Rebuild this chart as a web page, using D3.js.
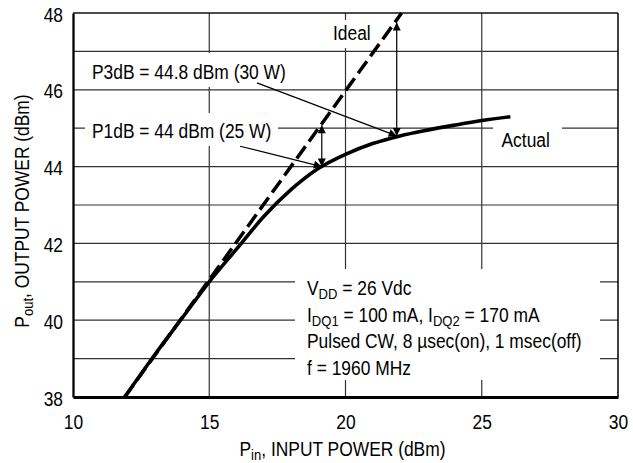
<!DOCTYPE html>
<html>
<head>
<meta charset="utf-8">
<script src="https://cdn.jsdelivr.net/npm/d3@7/dist/d3.min.js"></script>
<style>
  html, body { margin: 0; padding: 0; background: #fff; }
  svg { display: block; }
  text { font-family: "Liberation Sans", Arial, Helvetica, sans-serif; fill: #000; }
</style>
</head>
<body>
<svg id="chart" width="633" height="463"></svg>
<script>
// ---- data ----
const xTicks = [10, 15, 20, 25, 30];
const yTicks = [38, 40, 42, 44, 46, 48];
const xGrid = [15, 20, 25];
const yGrid = [39, 40, 41, 42, 43, 44, 45, 46, 47];

const actualPin  = [11.9, 13, 14, 15, 16, 17, 18, 19, 20, 21, 22, 23, 24, 25, 26.05];
const actualPout = [38.0, 39.1, 40.05, 41.0, 41.85, 42.7, 43.4, 43.95, 44.32, 44.6, 44.8, 44.95, 45.08, 45.2, 45.3];

const idealPin  = [11.9, 22.06];
const idealPout = [38.0, 48.0];

// compression points
const p1dB = { pin: 19.13, actual: 44.0, ideal: 45.08 };
const p3dB = { pin: 21.88, actual: 44.8, ideal: 47.75 };

// ---- layout ----
const W = 633, H = 463;
const m = { left: 73, top: 13, right: 15, bottom: 66 };
const FS = 20, SX = 0.87;

const svg = d3.select("#chart");
svg.append("rect").attr("width", W).attr("height", H).attr("fill", "#fff");

const x = d3.scaleLinear().domain([10, 30]).range([m.left, W - m.right]);
const y = d3.scaleLinear().domain([38, 48]).range([H - m.bottom, m.top]);

const defs = svg.append("defs");
defs.append("marker").attr("id", "ah")
  .attr("viewBox", "0 0 10 10").attr("refX", 10).attr("refY", 5)
  .attr("markerWidth", 12).attr("markerHeight", 8)
  .attr("markerUnits", "userSpaceOnUse").attr("orient", "auto-start-reverse")
  .append("path").attr("d", "M0,0 L10,5 L0,10 Z").attr("fill", "#000");

// ---- grid ----
const grid = svg.append("g");
grid.selectAll("line.v").data(xGrid).join("line")
  .attr("x1", d => x(d)).attr("x2", d => x(d))
  .attr("y1", y(48)).attr("y2", y(38))
  .attr("stroke", "#333").attr("stroke-width", 1.2);
grid.selectAll("line.h").data(yGrid).join("line")
  .attr("x1", x(10)).attr("x2", x(30))
  .attr("y1", d => y(d)).attr("y2", d => y(d))
  .attr("stroke", "#333").attr("stroke-width", 1.2);
// top and right frame
svg.append("line").attr("x1", x(10)).attr("x2", x(30)).attr("y1", y(48)).attr("y2", y(48))
  .attr("stroke", "#111").attr("stroke-width", 1.5);
svg.append("line").attr("x1", x(30)).attr("x2", x(30)).attr("y1", y(48)).attr("y2", y(38))
  .attr("stroke", "#111").attr("stroke-width", 1.6);

// ---- white label backgrounds ----
const boxes = [
  [330, 20, 43, 28],    // Ideal
  [493, 121, 69, 29],   // Actual
  [86, 53, 208, 34],    // P3dB
  [85, 113, 193, 33],   // P1dB
  [295, 269, 305, 111]  // conditions
];
svg.append("g").selectAll("rect").data(boxes).join("rect")
  .attr("x", d => d[0]).attr("y", d => d[1]).attr("width", d => d[2]).attr("height", d => d[3])
  .attr("fill", "#fff");

// ---- axes ----
const xAxis = svg.append("g").attr("transform", `translate(0,${y(38)})`)
  .call(d3.axisBottom(x).tickValues(xTicks).tickSize(0).tickSizeOuter(0).tickFormat(d3.format("d")));
xAxis.select(".domain").attr("stroke", "#000").attr("stroke-width", 3);
xAxis.selectAll("text").attr("y", 18).attr("dy", "0.71em")
  .attr("transform", `scale(${SX},1)`).style("font-size", FS + "px")
  .style("font-family", "Liberation Sans, Arial, sans-serif").attr("fill", "#000");

const yAxis = svg.append("g").attr("transform", `translate(${x(10)},0)`)
  .call(d3.axisLeft(y).tickValues(yTicks).tickSize(0).tickSizeOuter(0).tickFormat(d3.format("d")));
yAxis.select(".domain").attr("stroke", "#000").attr("stroke-width", 2.3);
yAxis.selectAll("text").attr("x", -11.5).attr("dy", "0.4em")
  .attr("transform", `scale(${SX},1)`).style("font-size", FS + "px")
  .style("font-family", "Liberation Sans, Arial, sans-serif").attr("fill", "#000");

// ---- curves ----
const actual = actualPin.map((p, i) => [p, actualPout[i]]);
const ideal = idealPin.map((p, i) => [p, idealPout[i]]);
const line = d3.line().x(d => x(d[0])).y(d => y(d[1])).curve(d3.curveMonotoneX);

svg.append("path").datum(ideal).attr("d", line)
  .attr("fill", "none").attr("stroke", "#000").attr("stroke-width", 3.5)
  .attr("stroke-dasharray", "15,6");
svg.append("path").datum(actual).attr("d", line)
  .attr("fill", "none").attr("stroke", "#000").attr("stroke-width", 3.6);

// ---- arrows ----
const arrows = svg.append("g").attr("stroke", "#000").attr("stroke-width", 1.2);
// double arrows
arrows.append("line").attr("x1", x(p1dB.pin)).attr("x2", x(p1dB.pin))
  .attr("y1", y(p1dB.ideal)).attr("y2", y(p1dB.actual))
  .attr("marker-start", "url(#ah)").attr("marker-end", "url(#ah)");
arrows.append("line").attr("x1", x(p3dB.pin)).attr("x2", x(p3dB.pin))
  .attr("y1", y(p3dB.ideal)).attr("y2", y(p3dB.actual))
  .attr("marker-start", "url(#ah)").attr("marker-end", "url(#ah)");
// pointers from labels
arrows.append("line").attr("x1", x(16.75)).attr("y1", y(46.18))
  .attr("x2", x(p3dB.pin)).attr("y2", y(p3dB.actual)).attr("marker-end", "url(#ah)");
arrows.append("line").attr("x1", x(16.13)).attr("y1", y(44.53))
  .attr("x2", x(p1dB.pin)).attr("y2", y(p1dB.actual)).attr("marker-end", "url(#ah)");

// ---- text ----
function label(px, py, parts, opts = {}) {
  const t = svg.append("text")
    .attr("transform", `translate(${px},${py})${opts.rotate ? " rotate(-90)" : ""} scale(${SX},1)`)
    .attr("text-anchor", opts.anchor || "start")
    .style("font-size", FS + "px");
  parts.forEach(p => {
    if (typeof p === "string") t.append("tspan").text(p);
    else t.append("tspan").attr("baseline-shift", "-25%").style("font-size", "15px").text(p.sub);
  });
  return t;
}

label(333, 40, ["Ideal"]);
label(501.5, 146.5, ["Actual"]);
label(92, 78.5, ["P3dB = 44.8 dBm (30 W)"]);
label(92, 138, ["P1dB = 44 dBm (25 W)"]);

label(307, 295, ["V", {sub: "DD"}, " = 26 Vdc"]);
label(307, 322, ["I", {sub: "DQ1"}, " = 100 mA, I", {sub: "DQ2"}, " = 170 mA"]);
label(307, 348, ["Pulsed CW, 8 \u00B5sec(on), 1 msec(off)"]);
label(307, 374.5, ["f = 1960 MHz"]);

// axis titles
label(342.5, 456, ["P", {sub: "in"}, ", INPUT POWER (dBm)"], {anchor: "middle"});
label(28.5, 211, ["P", {sub: "out"}, ", OUTPUT POWER (dBm)"], {anchor: "middle", rotate: true});
</script>
</body>
</html>
